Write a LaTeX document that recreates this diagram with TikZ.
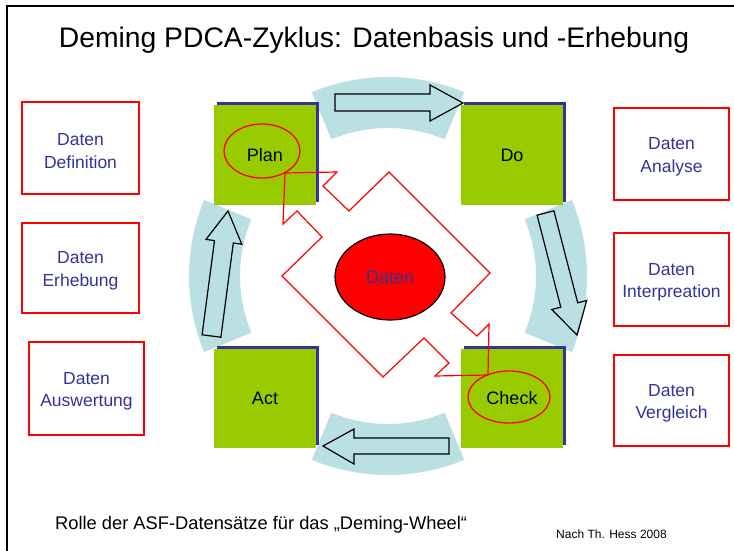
\documentclass[tikz,border=0pt]{standalone}
\usepackage{fontspec}
\setmainfont{Liberation Sans}
\usetikzlibrary{shapes.geometric,shadows}
\definecolor{pgreen}{HTML}{99CC00}
\definecolor{pblue}{HTML}{333399}
\definecolor{parc}{HTML}{BBE0E3}
\definecolor{pred}{HTML}{FF0000}
\begin{document}
\begin{tikzpicture}[x=1pt,y=-1pt,
  databox/.style={draw=pred,line width=1.3pt,fill=white,inner sep=0pt},
  boxtext/.style={align=center,text=pblue,font=\fontsize{17.5}{22.5}\selectfont,
    inner sep=0pt,yshift=-3pt},
  phase/.style={fill=pgreen,minimum width=102pt,minimum height=100pt,inner sep=0pt,
    font=\fontsize{18}{22}\selectfont,
    drop shadow={shadow xshift=3pt,shadow yshift=3pt,fill=pblue,opacity=1}},
  ring/.style={draw=pred,line width=1.3pt,ellipse,inner sep=0pt},
  arcband/.style={fill=parc},
  blockarrow/.style={fill=parc,draw=black,line width=1.2pt,line join=miter},
  redline/.style={draw=pred,line width=1.2pt,line join=miter}]
\useasboundingbox (0,0) rectangle (734,551);
\fill[white] (0,0) rectangle (734,551);
% frame
\draw[line width=2pt] (6.5,551) -- (6.5,6.5) -- (734,6.5);
% title and footers
\node[anchor=base,inner sep=0pt,font=\fontsize{28.3}{34}\selectfont] (title) at (374,48)
  {Deming PDCA-Zyklus: Datenbasis und -Erhebung};
\node[anchor=base west,inner sep=0pt,font=\fontsize{18.3}{23}\selectfont] (foot) at (55,529)
  {Rolle der ASF-Datensätze für das „Deming-Wheel“};
\node[anchor=base west,inner sep=0pt,font=\fontsize{12}{14}\selectfont] (credit) at (556,538)
  {Nach Th. Hess 2008};
% curved bands
\fill[arcband] plot[domain=67.5:112.5,samples=30] ({388+199*cos(\x)},{276-199*sin(\x)})
  -- plot[domain=112.5:67.5,samples=30] ({388+148*cos(\x)},{276-148*sin(\x)}) -- cycle;
\fill[arcband] plot[domain=247.5:292.5,samples=30] ({388+199*cos(\x)},{276-199*sin(\x)})
  -- plot[domain=292.5:247.5,samples=30] ({388+148*cos(\x)},{276-148*sin(\x)}) -- cycle;
\fill[arcband] plot[domain=157.5:202.5,samples=30] ({388+199*cos(\x)},{276-199*sin(\x)})
  -- plot[domain=202.5:157.5,samples=30] ({388+148*cos(\x)},{276-148*sin(\x)}) -- cycle;
\fill[arcband] plot[domain=-22.5:22.5,samples=30] ({388+199*cos(\x)},{276-199*sin(\x)})
  -- plot[domain=22.5:-22.5,samples=30] ({388+148*cos(\x)},{276-148*sin(\x)}) -- cycle;
% block arrows
\draw[blockarrow] (335,94) -- (430,94) -- (430,85) -- (463,103) -- (430,121) -- (430,111) -- (335,111) -- cycle;
\draw[blockarrow] (449,438) -- (354,438) -- (354,429) -- (323,446) -- (354,464) -- (354,454) -- (449,454) -- cycle;
\draw[blockarrow] (202.1,334.8) -- (214.5,240.6) -- (206.0,239.4) -- (228.0,211.0) -- (241.8,244.2) -- (233.3,243.0) -- (220.9,337.2) -- cycle;
\draw[blockarrow] (537.1,215.2) -- (553.9,210.8) -- (577.7,302.8) -- (586.7,300.5) -- (577,335) -- (551.8,309.5) -- (560.8,307.2) -- cycle;
% phase squares
\node[phase] (plan) at (265,155) {Plan};
\node[phase] (do) at (512,155) {Do};
\node[phase,minimum height=99pt] (act) at (265,398.5) {Act};
\node[phase,minimum height=99pt] (check) at (512,398.5) {Check};
% data boxes
\node[databox,minimum width=117pt,minimum height=92pt,label={[boxtext]center:Daten\\Definition}] (ddef) at (80.5,148) {};
\node[databox,minimum width=117pt,minimum height=90pt,label={[boxtext]center:Daten\\Erhebung}] (derh) at (80.5,268) {};
\node[databox,minimum width=115pt,minimum height=93pt,label={[boxtext]center:Daten\\Auswertung}] (dausw) at (86.5,388.5) {};
\node[databox,minimum width=115pt,minimum height=92pt,label={[boxtext]center:Daten\\Analyse}] (dana) at (671.5,154) {};
\node[databox,minimum width=115pt,minimum height=93pt,label={[boxtext]center:Daten\\Interpreation}] (dint) at (671.5,279.5) {};
\node[databox,minimum width=115pt,minimum height=91pt,label={[boxtext]center:Daten\\Vergleich}] (dver) at (671.5,400.5) {};
% red notched diamond
\draw[redline] (285,173) -- (337,172) -- (323,186) -- (349,211) -- (389,172) -- (490,273)
  -- (451,313) -- (477,336) -- (489,324) -- (488,375) -- (435,376) -- (449,363)
  -- (424,338) -- (383,377) -- (282,276) -- (322,237) -- (297,211) -- (283,224) -- cycle;
% rings
\node[ring,minimum width=76pt,minimum height=54pt] (planring) at (262,151) {};
\node[ring,minimum width=82pt,minimum height=52pt] (checkring) at (509,397) {};
% central data ellipse
\node[ellipse,fill=pred,draw=black,line width=1.2pt,minimum width=110pt,minimum height=86pt,
  inner sep=0pt,text=pblue,font=\fontsize{18}{22}\selectfont] (daten) at (390,277) {Daten};
\end{tikzpicture}
\end{document}
